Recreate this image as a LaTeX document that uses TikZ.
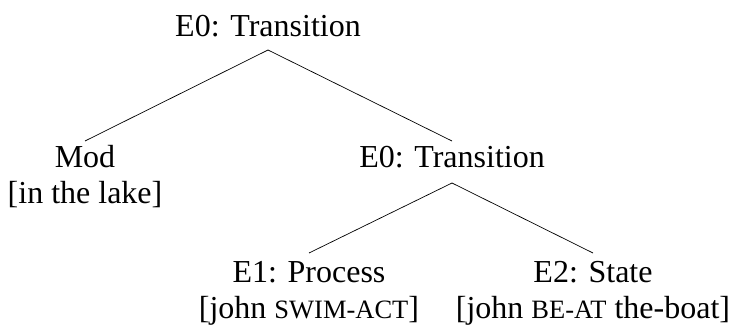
\documentclass[tikz,border=0pt]{standalone}
\usepackage{fontspec}
\setmainfont{Liberation Serif}
\newcommand{\fsc}[1]{{\fontsize{26.5}{36}\selectfont #1}}
\begin{document}
\begin{tikzpicture}[x=1pt,y=-1pt,
  tn/.style={anchor=base, align=center, inner sep=0pt, font=\fontsize{32}{36}\selectfont},
  edge/.style={line width=0.7pt}]
\useasboundingbox (0,0) rectangle (738,324);
\node[tn] (root) at (268,36) {E0: Transition};
\node[tn] (mod) at (85,203) {Mod\\{[}in the lake{]}};
\node[tn] (e0b) at (452,167) {E0: Transition};
\node[tn] (e1) at (309,318) {E1: Process\\{[}john \fsc{SWIM-ACT}{]}};
\node[tn] (e2) at (593,318) {E2: State\\{[}john \fsc{BE-AT} the-boat{]}};
\draw[edge] ([yshift=-14pt]root.base) -- ([yshift=62pt]mod.base);
\draw[edge] ([yshift=-14pt]root.base) -- ([yshift=26pt]e0b.base);
\draw[edge] ([yshift=-16pt]e0b.base) -- ([yshift=65pt]e1.base);
\draw[edge] ([yshift=-16pt]e0b.base) -- ([yshift=65pt]e2.base);
\end{tikzpicture}
\end{document}
